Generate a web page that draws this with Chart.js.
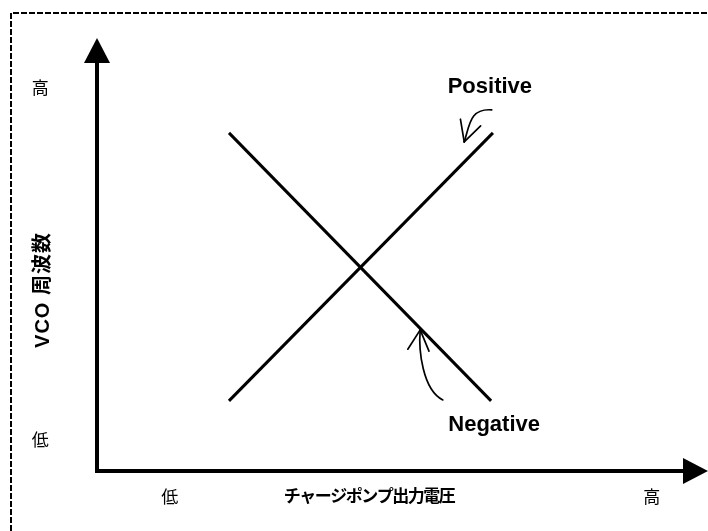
<!DOCTYPE html>
<html><head><meta charset="utf-8">
<script src="https://cdn.jsdelivr.net/npm/chart.js@4"></script>
<style>html,body{margin:0;padding:0;background:#fff}#c{display:block}</style>
</head><body><canvas id="c" width="708" height="531"></canvas>
<script>
// ---- data (arbitrary units 0..100 on both axes) ----
const seriesNames = ['Positive', 'Negative'];
const positiveX = [21.6, 64.8];
const positiveY = [16.2, 78.1];
const negativeX = [21.6, 64.5];
const negativeY = [78.1, 16.2];
const xTickLabels = ['低', '高'];
const yTickLabels = ['低', '高'];
const xAxisTitle = 'チャージポンプ出力電圧';
const yAxisTitle = 'VCO 周波数';
// curved pointer arrows: start, control 1, control 2, tip (data units)
const positivePointer = [[64.6, 83.4], [61.0, 83.8], [61.0, 79.9], [60.1, 76.0]];
const negativePointer = [[56.6, 16.4], [53.3, 18.7], [52.6, 27.9], [52.9, 32.6]];

const toPts = (xs, ys) => xs.map((x, i) => ({x, y: ys[i]}));

const decor = {
  id: 'decor',
  afterDatasetsDraw(chart) {
    const {ctx, scales: {x, y}} = chart;
    const px = v => x.getPixelForValue(v), py = v => y.getPixelForValue(v);
    ctx.save();
    // dashed frame
    ctx.strokeStyle = '#000'; ctx.lineWidth = 2; ctx.setLineDash([6, 2]);
    ctx.beginPath(); ctx.moveTo(11, 531); ctx.lineTo(11, 13); ctx.lineTo(708, 13); ctx.stroke();
    ctx.setLineDash([]);
    // axes with arrows
    const ox = px(0), oy = py(0), xt = px(100), yt = py(100);
    ctx.strokeStyle = '#000'; ctx.fillStyle = '#000'; ctx.lineWidth = 4; ctx.lineCap = 'butt';
    ctx.beginPath(); ctx.moveTo(ox, yt + 20); ctx.lineTo(ox, oy); ctx.lineTo(xt - 20, oy); ctx.stroke();
    ctx.beginPath(); ctx.moveTo(ox, yt); ctx.lineTo(ox - 13, yt + 25); ctx.lineTo(ox + 13, yt + 25); ctx.closePath(); ctx.fill();
    ctx.beginPath(); ctx.moveTo(xt, oy); ctx.lineTo(xt - 25, oy - 13); ctx.lineTo(xt - 25, oy + 13); ctx.closePath(); ctx.fill();
    // curved pointer arrows
    ctx.lineWidth = 1.7; ctx.lineCap = 'round';
    [positivePointer, negativePointer].forEach(p => {
      const [s, c1, c2, t] = p.map(q => [px(q[0]), py(q[1])]);
      ctx.beginPath(); ctx.moveTo(s[0], s[1]); ctx.bezierCurveTo(c1[0], c1[1], c2[0], c2[1], t[0], t[1]); ctx.stroke();
      const ang = Math.atan2(t[1] - c2[1], t[0] - c2[0]);
      [0.48, -0.48].forEach(d => {
        ctx.beginPath(); ctx.moveTo(t[0], t[1]);
        ctx.lineTo(t[0] - 23 * Math.cos(ang + d), t[1] - 23 * Math.sin(ang + d)); ctx.stroke();
      });
    });
    // texts
    ctx.textAlign = 'center'; ctx.textBaseline = 'middle'; ctx.fillStyle = '#000';
    ctx.font = 'bold 22px "Liberation Sans", Arial, sans-serif';
    ctx.fillText(seriesNames[0], px(64.3), py(88.7));
    ctx.fillText(seriesNames[1], px(65.0), py(10.6));
    ctx.font = '17px "Noto Sans CJK JP", sans-serif';
    ctx.fillText(yTickLabels[1], px(-9.3), py(88.5));
    ctx.fillText(yTickLabels[0], px(-9.3), py(7.2));
    ctx.fillText(xTickLabels[0], px(11.9), py(-6.0));
    ctx.fillText(xTickLabels[1], px(90.8), py(-6.0));
    ctx.font = 'bold 17px "Liberation Sans", "Noto Sans CJK JP", sans-serif';
    ctx.letterSpacing = '-1.5px';
    ctx.fillText(xAxisTitle, px(44.5), py(-6.0));
    ctx.font = 'bold 20px "Liberation Sans", "Noto Sans CJK JP", sans-serif';
    ctx.letterSpacing = '1px';
    ctx.save(); ctx.translate(px(-8.7), py(41.8)); ctx.rotate(-Math.PI / 2);
    ctx.fillText(yAxisTitle, 0, 0); ctx.restore();
    ctx.letterSpacing = '0px';
    ctx.restore();
  }
};

new Chart(document.getElementById('c'), {
  type: 'scatter',
  data: {
    datasets: [
      {label: seriesNames[0], data: toPts(positiveX, positiveY), showLine: true, borderColor: '#000', borderWidth: 3, pointRadius: 0, clip: false},
      {label: seriesNames[1], data: toPts(negativeX, negativeY), showLine: true, borderColor: '#000', borderWidth: 3, pointRadius: 0, clip: false}
    ]
  },
  options: {
    responsive: false, animation: false,
    layout: {padding: {left: 97, top: 38, right: 0, bottom: 60}},
    plugins: {legend: {display: false}, tooltip: {enabled: false}},
    scales: {
      x: {type: 'linear', min: 0, max: 100, display: false},
      y: {type: 'linear', min: 0, max: 100, display: false}
    }
  },
  plugins: [decor]
});
</script></body></html>
